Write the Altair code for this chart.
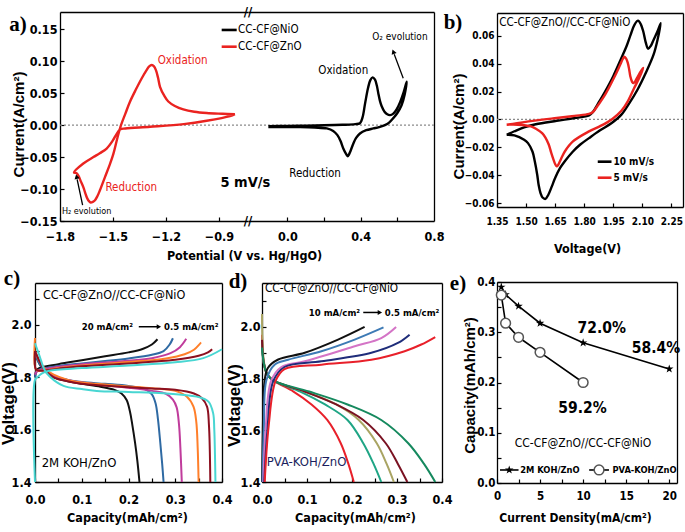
import altair as alt
import pandas as pd

# ---------------------------------------------------------------- data
# (a) single-electrode CVs at 5 mV/s (potential V vs Hg/HgO, current A/cm2)
ZNO_V = [-0.81, -0.838, -0.97, -1.10, -1.29, -1.43, -1.46, -1.48, -1.50, -1.536, -1.575, -1.611, -1.668, -1.721,
         -1.708, -1.696, -1.682, -1.668, -1.655, -1.645, -1.636, -1.626, -1.614, -1.602, -1.588, -1.574, -1.545,
         -1.52, -1.498, -1.477, -1.457, -1.43, -1.404, -1.37, -1.338, -1.31, -1.295, -1.281, -1.268, -1.257,
         -1.245, -1.234, -1.21, -1.187, -1.15, -1.102, -1.04, -0.97, -0.88, -0.81]
ZNO_I = [0.017, 0.014, 0.0068, 0.0016, -0.0026, -0.0052, -0.0068, -0.014, -0.0235, -0.0366, -0.044, -0.050,
         -0.060, -0.074, -0.075, -0.079, -0.088, -0.097, -0.108, -0.115, -0.119, -0.121, -0.120, -0.1175, -0.111,
         -0.102, -0.081, -0.063, -0.045, -0.022, -0.002, 0.018, 0.0366, 0.056, 0.073, 0.086, 0.092, 0.094, 0.092,
         0.086, 0.074, 0.060, 0.046, 0.037, 0.030, 0.0246, 0.021, 0.019, 0.0178, 0.017]
NIO_V = [-0.104, 0.0, 0.1, 0.2, 0.3, 0.37, 0.396, 0.41, 0.424, 0.44, 0.452, 0.465, 0.478, 0.488, 0.496, 0.505,
         0.514, 0.53, 0.545, 0.56, 0.578, 0.596, 0.615, 0.635, 0.651, 0.64, 0.623, 0.60, 0.578, 0.555, 0.532,
         0.50, 0.469, 0.43, 0.396, 0.375, 0.36, 0.345, 0.336, 0.329, 0.32, 0.305, 0.29, 0.273, 0.25, 0.215,
         0.15, 0.069, 0.0, -0.104]
NIO_I = [-0.0015, -0.0012, -0.0008, -0.0003, 0.0005, 0.0015, 0.003, 0.012, 0.034, 0.058, 0.070, 0.0747, 0.071,
         0.062, 0.050, 0.038, 0.030, 0.021, 0.017, 0.0157, 0.018, 0.0246, 0.036, 0.052, 0.068, 0.048, 0.031,
         0.019, 0.011, 0.004, 0.0, -0.003, -0.0052, -0.008, -0.013, -0.020, -0.0287, -0.040, -0.046, -0.0486,
         -0.045, -0.0366, -0.025, -0.0157, -0.009, -0.0052, -0.0038, -0.0031, -0.003, -0.0032]

# (b) full-cell CVs (voltage V, current A/cm2)
B10_V = [1.40, 1.44, 1.49, 1.55, 1.658, 1.75, 1.825, 1.845, 1.87, 1.908, 1.95, 1.992, 2.02, 2.04, 2.06, 2.078,
         2.093, 2.105, 2.118, 2.13, 2.145, 2.158, 2.178, 2.195, 2.18, 2.158, 2.12, 2.075, 2.03, 1.992, 1.942,
         1.88, 1.825, 1.78, 1.742, 1.70, 1.675, 1.65, 1.633, 1.615, 1.60, 1.585, 1.575, 1.565, 1.558, 1.545,
         1.533, 1.51, 1.49, 1.44, 1.40]
B10_I = [-0.011, -0.0085, -0.0057, -0.0035, -0.001, 0.001, 0.0029, 0.0053, 0.011, 0.020, 0.031, 0.044, 0.053,
         0.0608, 0.068, 0.0708, 0.068, 0.063, 0.055, 0.0507, 0.053, 0.057, 0.063, 0.069, 0.058, 0.0464, 0.034,
         0.0213, 0.011, 0.0034, -0.0026, -0.008, -0.0134, -0.018, -0.023, -0.030, -0.035, -0.042, -0.048, -0.054,
         -0.057, -0.056, -0.053, -0.047, -0.040, -0.030, -0.023, -0.017, -0.0146, -0.0115, -0.011]
B5_V = [1.40, 1.49, 1.658, 1.75, 1.825, 1.845, 1.87, 1.908, 1.958, 1.985, 2.0, 2.008, 2.017, 2.025, 2.032, 2.038,
        2.047, 2.055, 2.066, 2.078, 2.092, 2.105, 2.085, 2.058, 2.025, 1.992, 1.942, 1.88, 1.825, 1.742, 1.70,
        1.685, 1.675, 1.665, 1.658, 1.65, 1.642, 1.63, 1.617, 1.60, 1.583, 1.555, 1.525, 1.458, 1.40]
B5_I = [-0.0038, -0.0019, 0.001, 0.0025, 0.0039, 0.0053, 0.010, 0.0177, 0.031, 0.039, 0.0435, 0.045, 0.0435,
        0.0405, 0.036, 0.031, 0.027, 0.026, 0.028, 0.031, 0.0345, 0.0369, 0.030, 0.0225, 0.013, 0.0062, 0.0,
        -0.005, -0.0086, -0.0158, -0.023, -0.027, -0.030, -0.0328, -0.0337, -0.032, -0.029, -0.024, -0.018,
        -0.013, -0.0098, -0.007, -0.005, -0.0038, -0.0038]

# (c) charge/discharge in 2M KOH/ZnO, 20 -> 0.5 mA/cm2 (capacity mAh/cm2, voltage V)
C_COLORS = ["#111111", "#2f6aa3", "#c03c9c", "#ff7f2a", "#8c1020", "#48d6d2"]
C_CHG_Q = [[0, 0.003, 0.01, 0.05, 0.10, 0.15, 0.20, 0.23, 0.25, 0.262],
           [0, 0.003, 0.01, 0.05, 0.10, 0.15, 0.20, 0.25, 0.275, 0.288, 0.295],
           [0, 0.003, 0.01, 0.05, 0.10, 0.20, 0.25, 0.29, 0.31, 0.3235],
           [0, 0.002, 0.01, 0.05, 0.10, 0.20, 0.28, 0.32, 0.34, 0.355],
           [0, 0.002, 0.01, 0.05, 0.10, 0.20, 0.30, 0.35, 0.37, 0.379],
           [0, 0, 0.005, 0.015, 0.03, 0.10, 0.20, 0.30, 0.36, 0.40]]
C_CHG_V = [[1.80, 1.826, 1.836, 1.850, 1.865, 1.880, 1.895, 1.908, 1.925, 1.945],
           [1.80, 1.82, 1.83, 1.843, 1.853, 1.862, 1.872, 1.886, 1.90, 1.925, 1.949],
           [1.81, 1.82, 1.828, 1.84, 1.85, 1.863, 1.873, 1.892, 1.915, 1.947],
           [1.95, 1.83, 1.825, 1.835, 1.845, 1.858, 1.872, 1.888, 1.905, 1.933],
           [1.90, 1.83, 1.825, 1.833, 1.842, 1.853, 1.867, 1.882, 1.895, 1.907],
           [1.40, 1.79, 1.80, 1.815, 1.825, 1.835, 1.845, 1.857, 1.873, 1.907]]
C_DIS_Q = [[0, 0.01, 0.02, 0.04, 0.07, 0.10, 0.14, 0.17, 0.185, 0.196, 0.203, 0.208, 0.214, 0.219, 0.2235],
           [0, 0.01, 0.02, 0.04, 0.07, 0.10, 0.15, 0.20, 0.235, 0.25, 0.258, 0.263, 0.268, 0.272, 0.275],
           [0, 0.01, 0.02, 0.04, 0.07, 0.10, 0.15, 0.20, 0.25, 0.28, 0.295, 0.303, 0.308, 0.311, 0.314],
           [0, 0.01, 0.02, 0.04, 0.07, 0.10, 0.15, 0.20, 0.25, 0.30, 0.325, 0.339, 0.345, 0.348, 0.35],
           [0, 0.01, 0.02, 0.04, 0.07, 0.10, 0.15, 0.20, 0.25, 0.30, 0.34, 0.357, 0.368, 0.372, 0.375],
           [0, 0.01, 0.02, 0.032, 0.061, 0.10, 0.132, 0.20, 0.275, 0.346, 0.371, 0.381, 0.3835, 0.385, 0.386]]
C_DIS_V = [[1.89, 1.85, 1.825, 1.80, 1.785, 1.775, 1.764, 1.752, 1.738, 1.713, 1.67, 1.62, 1.55, 1.48, 1.40],
           [1.89, 1.85, 1.83, 1.805, 1.79, 1.782, 1.775, 1.767, 1.755, 1.735, 1.70, 1.64, 1.55, 1.47, 1.40],
           [1.90, 1.86, 1.835, 1.805, 1.79, 1.78, 1.77, 1.76, 1.748, 1.737, 1.715, 1.685, 1.62, 1.53, 1.40],
           [1.90, 1.86, 1.835, 1.81, 1.79, 1.78, 1.772, 1.765, 1.758, 1.748, 1.726, 1.688, 1.63, 1.53, 1.40],
           [1.90, 1.86, 1.83, 1.80, 1.785, 1.775, 1.768, 1.762, 1.757, 1.752, 1.738, 1.72, 1.688, 1.62, 1.40],
           [1.93, 1.88, 1.83, 1.802, 1.767, 1.755, 1.748, 1.744, 1.739, 1.726, 1.707, 1.663, 1.60, 1.50, 1.40]]

# (d) charge/discharge in PVA-KOH/ZnO, 10 -> 0.5 mA/cm2
D_CHG_COLORS = ["#111111", "#3d7ab5", "#d474c6", "#1f2d7a", "#e8202a"]
D_DIS_COLORS = ["#e8202a", "#1fa585", "#a9a463", "#7a1222", "#15895e"]
D_CHG_Q = [[0, 0.002, 0.005, 0.013, 0.036, 0.095, 0.169, 0.228],
           [0.001, 0.004, 0.01, 0.028, 0.058, 0.132, 0.206, 0.27],
           [0.003, 0.008, 0.02, 0.043, 0.095, 0.206, 0.265, 0.298],
           [0.005, 0.012, 0.025, 0.05, 0.132, 0.243, 0.302, 0.328],
           [0.006, 0.015, 0.03, 0.05, 0.132, 0.243, 0.317, 0.354, 0.385]]
D_CHG_V = [[1.40, 1.62, 1.78, 1.841, 1.874, 1.90, 1.951, 2.0],
           [1.40, 1.60, 1.796, 1.854, 1.873, 1.906, 1.951, 1.998],
           [1.40, 1.60, 1.79, 1.845, 1.867, 1.925, 1.957, 2.0],
           [1.40, 1.60, 1.79, 1.845, 1.867, 1.90, 1.938, 1.97],
           [1.40, 1.62, 1.79, 1.837, 1.854, 1.873, 1.906, 1.932, 1.961]]
D_DIS_Q = [[0, 0.004, 0.012, 0.028, 0.07, 0.11, 0.145, 0.175, 0.192, 0.204],
           [0, 0.004, 0.012, 0.028, 0.085, 0.14, 0.19, 0.225, 0.248, 0.265],
           [0, 0.004, 0.012, 0.028, 0.095, 0.165, 0.215, 0.255, 0.277, 0.293],
           [0, 0.004, 0.012, 0.028, 0.095, 0.165, 0.225, 0.275, 0.302, 0.323],
           [0, 0.004, 0.012, 0.028, 0.105, 0.19, 0.265, 0.325, 0.36, 0.385]]
D_DIS_V = [[1.97, 1.86, 1.815, 1.79, 1.75, 1.70, 1.64, 1.55, 1.47, 1.40],
           [1.95, 1.86, 1.815, 1.79, 1.75, 1.70, 1.64, 1.55, 1.47, 1.40],
           [2.05, 1.87, 1.815, 1.79, 1.75, 1.70, 1.64, 1.55, 1.47, 1.40],
           [1.95, 1.86, 1.815, 1.79, 1.75, 1.70, 1.64, 1.55, 1.47, 1.40],
           [1.92, 1.86, 1.815, 1.79, 1.75, 1.70, 1.64, 1.55, 1.47, 1.40]]

# (e) rate capability
E_J_KOH = [0.5, 1, 2.5, 5, 10, 20]
E_CAP_KOH = [0.39, 0.375, 0.352, 0.318, 0.279, 0.227]
E_J_PVA = [0.5, 1, 2.5, 5, 10]
E_CAP_PVA = [0.374, 0.318, 0.29, 0.26, 0.2]

# ---------------------------------------------------------------- layout
W, H = 685, 532
FN = "'Liberation Sans Narrow', 'Arial Narrow', 'DejaVu Sans Condensed', sans-serif"
FA = "'Liberation Sans', Arial, sans-serif"
FT = "'Liberation Serif', 'Times New Roman', serif"
RED = "#ea2320"

A_XL = ([-1.8, -0.736], [60, 248])
A_XR = ([-0.215, 0.8], [248, 434])
A_Y = ([-0.15, 0.177], [221, 12])
B_X = ([1.35, 2.31], [497, 683])
B_Y = ([-0.0628, 0.0763], [207, 13])
C_X = ([0, 0.4], [35, 222])
C_Y = ([1.4, 2.16], [482, 283])
D_X = ([0, 0.4], [262, 442])
D_Y = ([1.4, 2.17], [482, 283])
E_X = ([0, 20.9], [497, 677])
E_Y = ([0, 0.4], [483, 282])


def S(p):
    return alt.Scale(domain=list(p[0]), range=list(p[1]), nice=False, zero=False)


def enc(px, py, xa=None, ya=None):
    return dict(x=alt.X("x:Q", scale=S(px), axis=xa), y=alt.Y("y:Q", scale=S(py), axis=ya))


def lab_axis(orient, offset, values, fmt, size, pad, **kw):
    return alt.Axis(orient=orient, offset=offset, values=values, format=fmt, labelFont=FN,
                    labelFontSize=size, labelFontWeight="bold", labelColor="black", labelPadding=pad,
                    labelFlush=False, labelOverlap=False, ticks=False, tickSize=0, grid=False,
                    domain=True, domainColor="black", domainWidth=1.3, titleColor="black", **kw)


def tick_axis(orient, offset, values):
    return alt.Axis(orient=orient, offset=offset, values=values, labels=False, domain=False, ticks=True,
                    tickSize=4, tickWidth=1.2, tickColor="black", grid=False, title=None)


def frame_axis(orient, offset):
    return alt.Axis(orient=orient, offset=offset, labels=False, ticks=False, domain=True,
                    domainColor="black", domainWidth=1.3, grid=False, title=None)


def dummy(px, py):
    return alt.Chart(pd.DataFrame({"x": [px[0][0]], "y": [py[0][0]]})).mark_point(opacity=0)


def axes(px, py, xlab, ylab, xt, yt, top=True, right=True):
    x0, x1 = px[1]
    yb, ytop = py[1]
    return [
        dummy(px, py).encode(**enc(px, py, xlab, ylab)),
        dummy(px, py).encode(**enc(px, py,
                                   tick_axis("top", -yb, xt) if xt else None,
                                   tick_axis("right", x0 - W, yt) if yt else None)),
        dummy(px, py).encode(**enc(px, py,
                                   frame_axis("top", -ytop) if top else None,
                                   frame_axis("right", x1 - W) if right else None)),
    ]


def curve(px, py, xs, ys, color, width=2.0, interp="linear"):
    n = min(len(xs), len(ys))
    df = pd.DataFrame({"x": xs[:n], "y": ys[:n], "i": list(range(n))})
    return alt.Chart(df).mark_line(color=color, strokeWidth=width, interpolate=interp).encode(
        order="i:Q", **enc(px, py))


def texts(px, py, rows, **mk):
    df = pd.DataFrame(rows, columns=["x", "y", "t"])
    return alt.Chart(df).mark_text(**mk).encode(text="t:N", **enc(px, py))


def segs(px, py, rows, **mk):
    df = pd.DataFrame(rows, columns=["x", "x2", "y", "y2"])
    return alt.Chart(df).mark_rule(**mk).encode(
        x=alt.X("x:Q", scale=S(px), axis=None), x2="x2:Q",
        y=alt.Y("y:Q", scale=S(py), axis=None), y2="y2:Q")


def head(px, py, x, y, ang, size=28):
    df = pd.DataFrame({"x": [x], "y": [y]})
    return alt.Chart(df).mark_point(shape="triangle-up", filled=True, color="black", opacity=1,
                                    size=size, angle=ang).encode(**enc(px, py))


layers = []
ttl = dict(titleFont=FA, titleFontWeight="bold")
xttl = dict(titleFont=FN, titleFontWeight="bold", titleAlign="center", titleBaseline="middle")
yttl = dict(titleAngle=270, titleAlign="center", titleBaseline="middle", **ttl)

# ---------------------------------------------------------------- panel a
layers += axes(A_XL, A_Y,
               lab_axis("bottom", A_Y[1][0] - H, [-1.8, -1.5, -1.2, -0.9], ".1f", 12.5, 9,
                        title="Potential (V vs. Hg/HgO)", titleFontSize=12.5, titleX=244, titleY=34, **xttl),
               lab_axis("left", -A_XL[1][0], [-0.15, -0.10, -0.05, 0.0, 0.05, 0.10, 0.15], ".2f", 12.5, 3,
                        title="Current(A/cm²)", titleFontSize=15, titleX=-42, titleY=124, **yttl),
               [-1.8, -1.5, -1.2, -0.9], [-0.15, -0.10, -0.05, 0.0, 0.05, 0.10, 0.15], right=False)
layers += axes(A_XR, A_Y,
               lab_axis("bottom", A_Y[1][0] - H, [0.0, 0.4, 0.8], ".1f", 12.5, 9, title=None),
               None, [0.0, 0.2, 0.4, 0.6], None)
layers.append(segs(A_XL, A_Y, [(-1.8, -0.736, 0, 0)], color="#8a8a8a", strokeDash=[2, 2], strokeWidth=1.2))
layers.append(segs(A_XR, A_Y, [(-0.215, 0.8, 0, 0)], color="#8a8a8a", strokeDash=[2, 2], strokeWidth=1.2))
layers.append(curve(A_XL, A_Y, ZNO_V, ZNO_I, RED, 2.4, "catmull-rom"))
layers.append(curve(A_XR, A_Y, NIO_V, NIO_I, "black", 2.4, "catmull-rom"))
layers.append(segs(A_XL, A_Y, [(-0.885, -0.80, 0.1489, 0.1489)], color="black", strokeWidth=2.6))
layers.append(segs(A_XL, A_Y, [(-0.885, -0.80, 0.1227, 0.1227)], color=RED, strokeWidth=2.6))
layers.append(texts(A_XL, A_Y, [(-0.792, 0.1489, "CC-CF@NiO"), (-0.792, 0.1227, "CC-CF@ZnO")],
                    align="left", baseline="middle", font=FN, fontSize=11.5, color="black"))
layers.append(texts(A_XL, A_Y, [(-1.106, 0.1003, "Oxidation"), (-1.397, -0.0989, "Reduction")],
                    align="center", baseline="middle", font=FN, fontSize=11.5, color=RED))
layers.append(texts(A_XR, A_Y, [(0.305, 0.0846, "Oxidation"), (0.151, -0.0765, "Reduction")],
                    align="center", baseline="middle", font=FN, fontSize=11.5, color="black"))
layers.append(texts(A_XL, A_Y, [(-0.751, -0.0901, "5 mV/s")], align="center", baseline="middle",
                    font=FN, fontSize=14.5, fontWeight="bold", color="black"))
layers.append(texts(A_XL, A_Y, [(-1.649, -0.134, "H₂ evolution")], align="center", baseline="middle",
                    font=FN, fontSize=9, color="black"))
layers.append(texts(A_XR, A_Y, [(0.614, 0.138, "O₂ evolution")], align="center", baseline="middle",
                    font=FN, fontSize=10, color="black"))
layers.append(segs(A_XL, A_Y, [(-1.672, -1.703, -0.125, -0.085)], color="black", strokeWidth=1.3))
layers.append(head(A_XL, A_Y, -1.706, -0.0807, 346))
layers.append(segs(A_XR, A_Y, [(0.632, 0.583, 0.0732, 0.111)], color="black", strokeWidth=1.3))
layers.append(head(A_XR, A_Y, 0.578, 0.1148, 339))
layers.append(texts(A_XL, A_Y, [(-0.736, -0.15, "//"), (-0.736, 0.177, "//")], align="center",
                    baseline="middle", font=FN, fontSize=13, fontWeight="bold", color="black"))

# ---------------------------------------------------------------- panel b
b_xt = [1.35, 1.50, 1.65, 1.80, 1.95, 2.10, 2.25]
b_yt = [-0.06, -0.04, -0.02, 0.0, 0.02, 0.04, 0.06]
layers += axes(B_X, B_Y,
               lab_axis("bottom", B_Y[1][0] - H, b_xt, ".2f", 10, 9, title="Voltage(V)", titleFontSize=12.5,
                        titleX=587, titleY=41, **xttl),
               lab_axis("left", -B_X[1][0], b_yt, ".2f", 10, 3, title="Current(A/cm²)", titleFontSize=15,
                        titleX=-39, titleY=126, **yttl),
               b_xt, b_yt)
layers.append(segs(B_X, B_Y, [(1.35, 2.31, 0, 0)], color="#8a8a8a", strokeDash=[2, 2], strokeWidth=1.2))
layers.append(curve(B_X, B_Y, B10_V, B10_I, "black", 2.4, "catmull-rom"))
layers.append(curve(B_X, B_Y, B5_V, B5_I, RED, 2.4, "catmull-rom"))
layers.append(texts(B_X, B_Y, [(1.362, 0.0692, "CC-CF@ZnO//CC-CF@NiO")], align="left", baseline="middle",
                    font=FN, fontSize=11.5, color="black"))
layers.append(segs(B_X, B_Y, [(1.870, 1.941, -0.0303, -0.0303)], color="black", strokeWidth=2.6))
layers.append(segs(B_X, B_Y, [(1.870, 1.941, -0.0418, -0.0418)], color=RED, strokeWidth=2.6))
layers.append(texts(B_X, B_Y, [(1.951, -0.0303, "10 mV/s"), (1.951, -0.0418, "5 mV/s")], align="left",
                    baseline="middle", font=FN, fontSize=10, fontWeight="bold", color="black"))

# ---------------------------------------------------------------- panel c
cd_xt = [0, 0.05, 0.1, 0.15, 0.2, 0.25, 0.3, 0.35, 0.4]
cd_yt = [1.4, 1.5, 1.6, 1.7, 1.8, 1.9, 2.0, 2.1]
layers += axes(C_X, C_Y,
               lab_axis("bottom", C_Y[1][0] - H, [0, 0.1, 0.2, 0.3, 0.4], ".1f", 12.5, 11,
                        title="Capacity(mAh/cm²)", titleFontSize=12.5, titleX=127, titleY=35, **xttl),
               lab_axis("left", -C_X[1][0], [1.4, 1.6, 1.8, 2.0], ".1f", 12.5, 4, title="Voltage(V)",
                        titleFontSize=17, titleX=-27, titleY=403, **yttl),
               cd_xt, cd_yt)
for k in range(6):
    layers.append(curve(C_X, C_Y, C_CHG_Q[k], C_CHG_V[k], C_COLORS[k], 2.0, "catmull-rom"))
    layers.append(curve(C_X, C_Y, C_DIS_Q[k], C_DIS_V[k], C_COLORS[k], 2.0, "catmull-rom"))
layers.append(texts(C_X, C_Y, [(0.0171, 2.114, "CC-CF@ZnO//CC-CF@NiO")],
                    align="left", baseline="middle", font=FN, fontSize=12.5, color="black"))
layers.append(texts(C_X, C_Y, [(0.0143, 1.4726, "2M KOH/ZnO")],
                    align="left", baseline="middle", font=FN, fontSize=13, color="black"))
layers.append(texts(C_X, C_Y, [(0.0999, 1.992, "20 mA/cm²"), (0.276, 1.992, "0.5 mA/cm²")], align="left",
                    baseline="middle", font=FN, fontSize=9.5, fontWeight="bold", color="black"))
layers.append(segs(C_X, C_Y, [(0.222, 0.262, 1.993, 1.993)], color="black", strokeWidth=1.5))
layers.append(head(C_X, C_Y, 0.265, 1.993, 90, 26))

# ---------------------------------------------------------------- panel d
layers += axes(D_X, D_Y,
               lab_axis("bottom", D_Y[1][0] - H, [0, 0.1, 0.2, 0.3, 0.4], ".1f", 12.5, 11,
                        title="Capacity(mAh/cm²)", titleFontSize=12.5, titleX=355, titleY=35, **xttl),
               lab_axis("left", -D_X[1][0], [1.4, 1.6, 1.8, 2.0], ".1f", 12.5, 2, title="Voltage(V)",
                        titleFontSize=17, titleX=-28, titleY=405, **yttl),
               cd_xt, cd_yt)
for k in range(5):
    layers.append(curve(D_X, D_Y, D_DIS_Q[k], D_DIS_V[k], D_DIS_COLORS[k], 2.0, "catmull-rom"))
for k in range(5):
    layers.append(curve(D_X, D_Y, D_CHG_Q[k], D_CHG_V[k], D_CHG_COLORS[k], 2.0, "catmull-rom"))
layers.append(texts(D_X, D_Y, [(0.0067, 2.150, "CC-CF@ZnO//CC-CF@NiO")], align="left", baseline="middle",
                    font=FN, fontSize=11.7, color="black"))
layers.append(texts(D_X, D_Y, [(0.0104, 1.4786, "PVA-KOH/ZnO")], align="left", baseline="middle",
                    font=FN, fontSize=13, color="#1b1f5e"))
layers.append(texts(D_X, D_Y, [(0.104, 2.054, "10 mA/cm²"), (0.273, 2.054, "0.5 mA/cm²")], align="left",
                    baseline="middle", font=FN, fontSize=9.5, fontWeight="bold", color="black"))
layers.append(segs(D_X, D_Y, [(0.225, 0.258, 2.056, 2.056)], color="black", strokeWidth=1.5))
layers.append(head(D_X, D_Y, 0.262, 2.056, 90, 26))

# ---------------------------------------------------------------- panel e
layers += axes(E_X, E_Y,
               lab_axis("bottom", E_Y[1][0] - H, [0, 5, 10, 15, 20], "d", 11.5, 7.5,
                        title="Current Density(mA/cm²)", titleFontSize=12, titleX=575, titleY=34, **xttl),
               lab_axis("left", -E_X[1][0], [0.0, 0.1, 0.2, 0.3, 0.4], ".1f", 11.5, 2,
                        title="Capacity(mAh/cm²)", titleFontSize=15, titleX=-28, titleY=385, **yttl),
               [0, 2.5, 5, 7.5, 10, 12.5, 15, 17.5, 20], [0, 0.05, 0.1, 0.15, 0.2, 0.25, 0.3, 0.35, 0.4])
STAR = ("M0,-1L0.2245,-0.309L0.951,-0.309L0.363,0.118L0.588,0.809L0,0.382L-0.588,0.809"
        "L-0.363,0.118L-0.951,-0.309L-0.2245,-0.309Z")
layers.append(curve(E_X, E_Y, E_J_KOH, E_CAP_KOH, "black", 1.6))
layers.append(curve(E_X, E_Y, E_J_PVA, E_CAP_PVA, "black", 1.6))
kdf = pd.DataFrame({"x": E_J_KOH, "y": E_CAP_KOH})
pdf = pd.DataFrame({"x": E_J_PVA, "y": E_CAP_PVA})
layers.append(alt.Chart(kdf).mark_point(shape=STAR, filled=True, color="black", opacity=1, size=80)
              .encode(**enc(E_X, E_Y)))
layers.append(alt.Chart(pdf).mark_point(shape="circle", fill="white", stroke="#555555", strokeWidth=1.5,
                                        opacity=1, size=95).encode(**enc(E_X, E_Y)))
layers.append(texts(E_X, E_Y, [(12.16, 0.3079, "72.0%"), (18.46, 0.2681, "58.4%"), (9.93, 0.1487, "59.2%")],
                    align="center", baseline="middle", font=FN, fontSize=15.5, fontWeight="bold",
                    color="black"))
layers.append(texts(E_X, E_Y, [(9.99, 0.079, "CC-CF@ZnO//CC-CF@NiO")], align="center", baseline="middle",
                    font=FN, fontSize=12, color="black"))
layers.append(segs(E_X, E_Y, [(0.35, 2.5, 0.0259, 0.0259), (10.7, 13.0, 0.0259, 0.0259)],
                   color="black", strokeWidth=1.6))
layers.append(alt.Chart(pd.DataFrame({"x": [1.42], "y": [0.0259]}))
              .mark_point(shape=STAR, filled=True, color="black", opacity=1, size=80).encode(**enc(E_X, E_Y)))
layers.append(alt.Chart(pd.DataFrame({"x": [11.85], "y": [0.0259]}))
              .mark_point(shape="circle", fill="white", stroke="#555555", strokeWidth=1.5, opacity=1, size=95)
              .encode(**enc(E_X, E_Y)))
layers.append(texts(E_X, E_Y, [(2.7, 0.0259, "2M KOH/ZnO"), (13.4, 0.0259, "PVA-KOH/ZnO")], align="left",
                    baseline="middle", font=FN, fontSize=9.3, fontWeight="bold", color="black"))

# ---------------------------------------------------------------- panel letters
PANEL_TAGS = ["a)", "b)", "c)", "d)", "e)"]
TAG_PX = [18, 453, 12, 238, 458]
TAG_PY = [25, 23, 279, 282, 284]
tags = pd.DataFrame({"px": TAG_PX, "py": TAG_PY, "t": PANEL_TAGS})
layers.append(alt.Chart(tags).mark_text(font=FT, fontSize=21, fontWeight="bold", color="black",
                                        align="center", baseline="middle")
              .encode(x=alt.X("px:Q", scale=None, axis=None), y=alt.Y("py:Q", scale=None, axis=None),
                      text="t:N"))

chart = (alt.layer(*layers)
         .resolve_scale(x="independent", y="independent")
         .resolve_axis(x="independent", y="independent")
         .properties(width=W, height=H, autosize=alt.AutoSizeParams(type="none"), padding=0,
                     background="white")
         .configure_view(stroke=None))

chart.save("out.html", embed_options={"renderer": "svg", "actions": False})
